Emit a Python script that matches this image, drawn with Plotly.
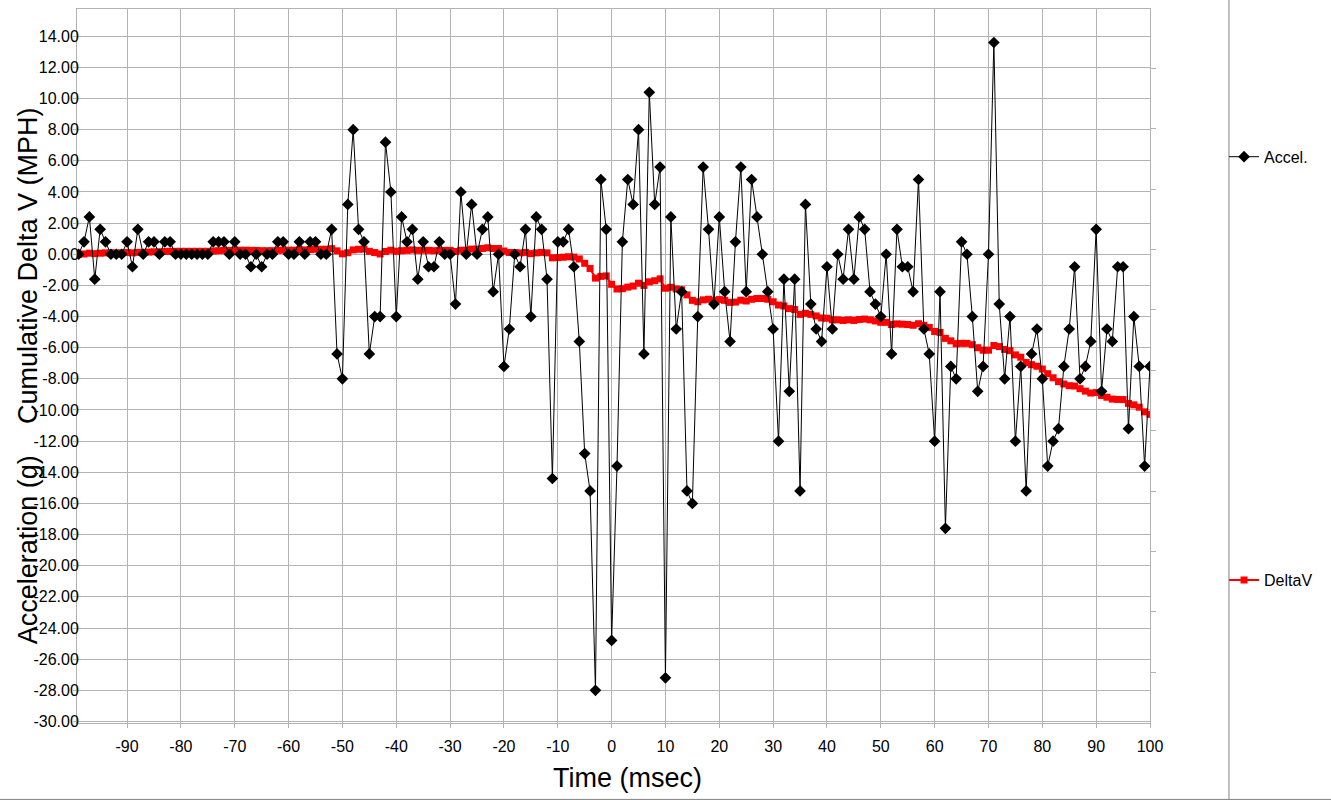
import plotly.graph_objects as go

# ---------------- data ----------------
time_ms = list(range(-99, 101))

accel = [
    0, 0.8, 2.4, -1.6, 1.6, 0.8, 0, 0, 0, 0.8,             # -99..-90
    -0.8, 1.6, 0, 0.8, 0.8, 0, 0.8, 0.8, 0, 0,             # -89..-80
    0, 0, 0, 0, 0, 0.8, 0.8, 0.8, 0, 0.8,                  # -79..-70
    0, 0, -0.8, 0, -0.8, 0, 0, 0.8, 0.8, 0,                # -69..-60
    0, 0.8, 0, 0.8, 0.8, 0, 0, 1.6, -6.4, -8.0,            # -59..-50
    3.2, 8.0, 1.6, 0.8, -6.4, -4.0, -4.0, 7.2, 4.0, -4.0,  # -49..-40
    2.4, 0.8, 1.6, -1.6, 0.8, -0.8, -0.8, 0.8, 0, 0,       # -39..-30
    -3.2, 4.0, 0, 3.2, 0, 1.6, 2.4, -2.4, 0, -7.2,         # -29..-20
    -4.8, 0, -0.8, 1.6, -4.0, 2.4, 1.6, -1.6, -14.4, 0.8,  # -19..-10
    0.8, 1.6, -0.8, -5.6, -12.8, -15.2, -28.0, 4.8, 1.6, -24.8,  # -9..0
    -13.6, 0.8, 4.8, 3.2, 8.0, -6.4, 10.4, 3.2, 5.6, -27.2,      # 1..10
    2.4, -4.8, -2.4, -15.2, -16.0, -4.0, 5.6, 1.6, -3.2, 2.4,    # 11..20
    -2.4, -5.6, 0.8, 5.6, -2.4, 4.8, 2.4, 0, -2.4, -4.8,         # 21..30
    -12.0, -1.6, -8.8, -1.6, -15.2, 3.2, -3.2, -4.8, -5.6, -0.8, # 31..40
    -4.8, 0, -1.6, 1.6, -1.6, 2.4, 1.6, -2.4, -3.2, -4.0,        # 41..50
    0, -6.4, 1.6, -0.8, -0.8, -2.4, 4.8, -4.8, -6.4, -12.0,      # 51..60
    -2.4, -17.6, -7.2, -8.0, 0.8, 0, -4.0, -8.8, -7.2, 0,        # 61..70
    13.6, -3.2, -8.0, -4.0, -12.0, -7.2, -15.2, -6.4, -4.8, -8.0,  # 71..80
    -13.6, -12.0, -11.2, -7.2, -4.8, -0.8, -8.0, -7.2, -5.6, 1.6,  # 81..90
    -8.8, -4.8, -5.6, -0.8, -0.8, -11.2, -4.0, -7.2, -13.6, -7.2,  # 91..100
]

delta_v = [
    0.00, 0.02, 0.07, 0.04, 0.07, 0.09, 0.09, 0.09, 0.09, 0.11,
    0.09, 0.12, 0.12, 0.14, 0.16, 0.16, 0.18, 0.19, 0.19, 0.19,
    0.19, 0.19, 0.19, 0.19, 0.19, 0.21, 0.23, 0.25, 0.25, 0.26,
    0.26, 0.26, 0.25, 0.25, 0.23, 0.23, 0.23, 0.25, 0.26, 0.26,
    0.26, 0.28, 0.28, 0.30, 0.32, 0.32, 0.32, 0.36, 0.22, 0.03,
    0.10, 0.28, 0.32, 0.33, 0.19, 0.11, 0.02, 0.18, 0.26, 0.19,
    0.23, 0.25, 0.28, 0.25, 0.26, 0.25, 0.23, 0.25, 0.25, 0.25,
    0.18, 0.26, 0.26, 0.33, 0.33, 0.37, 0.42, 0.37, 0.37, 0.21,
    0.11, 0.11, 0.09, 0.12, 0.04, 0.09, 0.12, 0.09, -0.23, -0.21,
    -0.19, -0.16, -0.18, -0.30, -0.58, -0.91, -1.53, -1.42, -1.39, -1.93,
    -2.23, -2.21, -2.11, -2.04, -1.86, -2.00, -1.77, -1.70, -1.58, -2.18,
    -2.12, -2.23, -2.28, -2.61, -2.96, -3.05, -2.93, -2.89, -2.96, -2.91,
    -2.96, -3.09, -3.07, -2.95, -3.00, -2.89, -2.84, -2.84, -2.89, -3.05,
    -3.26, -3.32, -3.49, -3.55, -3.86, -3.79, -3.86, -3.96, -4.09, -4.11,
    -4.21, -4.21, -4.25, -4.21, -4.25, -4.19, -4.16, -4.21, -4.28, -4.37,
    -4.37, -4.51, -4.47, -4.49, -4.51, -4.56, -4.46, -4.56, -4.70, -4.96,
    -5.02, -5.40, -5.56, -5.74, -5.72, -5.72, -5.81, -6.00, -6.16, -6.16,
    -5.86, -5.93, -6.11, -6.19, -6.46, -6.61, -6.95, -7.09, -7.19, -7.37,
    -7.67, -7.93, -8.18, -8.33, -8.44, -8.46, -8.63, -8.79, -8.91, -8.88,
    -9.07, -9.18, -9.30, -9.32, -9.33, -9.58, -9.67, -9.82, -10.12, -10.28,
]

x_tick_vals = [-90, -80, -70, -60, -50, -40, -30, -20, -10, 0,
               10, 20, 30, 40, 50, 60, 70, 80, 90, 100]
x_tick_text = [str(v) for v in x_tick_vals]
y_tick_vals = list(range(-30, 16, 2))
y_tick_text = [f"{v:.2f}" for v in y_tick_vals]

x_title = "Time (msec)"
y_title_top = "Cumulative Delta V (MPH)"
y_title_bottom = "Acceleration (g)"

# ---------------- figure ----------------
FONT = "Liberation Sans, Arial, sans-serif"
GRID = "#b3b3b3"

fig = go.Figure()

fig.add_trace(go.Scatter(
    x=time_ms, y=delta_v, name="DeltaV", mode="lines+markers",
    line=dict(color="#ff0000", width=2),
    marker=dict(symbol="square", size=7, color="#ff0000"),
    legend="legend2",
))
fig.add_trace(go.Scatter(
    x=time_ms, y=accel, name="Accel.", mode="lines+markers",
    line=dict(color="black", width=1),
    marker=dict(symbol="diamond", size=9, color="black"),
    legend="legend",
))
# secondary (unlabelled) right-hand axis
fig.add_trace(go.Scatter(x=[], y=[], yaxis="y2", showlegend=False, hoverinfo="skip"))

y_range = [-30.1, 15.75]

fig.update_layout(
    width=1331, height=800,
    margin=dict(l=77, r=181, t=9, b=77),
    paper_bgcolor="white", plot_bgcolor="white",
    font=dict(family=FONT, size=16, color="black"),
    showlegend=True,
    xaxis=dict(
        range=[-99.3, 100], tickmode="array",
        tickvals=x_tick_vals, ticktext=x_tick_text,
        showgrid=True, gridcolor=GRID, gridwidth=1,
        showline=True, linecolor=GRID, linewidth=1, mirror=True,
        ticks="outside", ticklen=4, tickcolor=GRID,
        zeroline=False, ticklabelstandoff=5,
        tickfont=dict(size=16),
    ),
    yaxis=dict(
        range=y_range, tickmode="array",
        tickvals=y_tick_vals, ticktext=y_tick_text,
        showgrid=True, gridcolor=GRID, gridwidth=1,
        showline=True, linecolor=GRID, linewidth=1, mirror=True,
        ticks="outside", ticklen=3, tickcolor=GRID,
        zeroline=False, ticklabelstandoff=-9,
        tickfont=dict(size=16),
    ),
    yaxis2=dict(
        overlaying="y", side="right", range=y_range,
        tickmode="linear", tick0=11.95, dtick=3.88,
        ticks="outside", ticklen=5, tickcolor=GRID,
        showticklabels=False, showgrid=False, showline=False, zeroline=False,
    ),
    legend=dict(
        x=1.069, y=0.793, xanchor="left", yanchor="middle",
        bgcolor="rgba(0,0,0,0)", itemwidth=30, font=dict(size=16),
    ),
    legend2=dict(
        x=1.069, y=0.2, xanchor="left", yanchor="middle",
        bgcolor="rgba(0,0,0,0)", itemwidth=30, font=dict(size=16),
    ),
    shapes=[
        dict(type="line", xref="paper", yref="paper",
             x0=1.0736, x1=1.0736, y0=-0.107, y1=1.02,
             line=dict(color="#808080", width=1)),
        dict(type="line", xref="paper", yref="paper",
             x0=-0.08, x1=1.18, y0=-0.107, y1=-0.107,
             line=dict(color="#808080", width=1)),
    ],
    annotations=[
        dict(text=x_title, xref="paper", yref="paper", x=0.5135, y=-0.0775,
             xanchor="center", yanchor="middle", showarrow=False,
             font=dict(size=27)),
        dict(text=y_title_top, xref="paper", yref="paper", x=-0.045, y=0.641,
             xanchor="center", yanchor="middle", showarrow=False, textangle=-90,
             font=dict(size=27)),
        dict(text=y_title_bottom, xref="paper", yref="paper", x=-0.045, y=0.243,
             xanchor="center", yanchor="middle", showarrow=False, textangle=-90,
             font=dict(size=27)),
    ],
)

fig.write_html(
    "out.html",
    config={"displayModeBar": False},
    post_script="document.body.style.margin='0px';document.body.style.overflow='hidden';",
)
